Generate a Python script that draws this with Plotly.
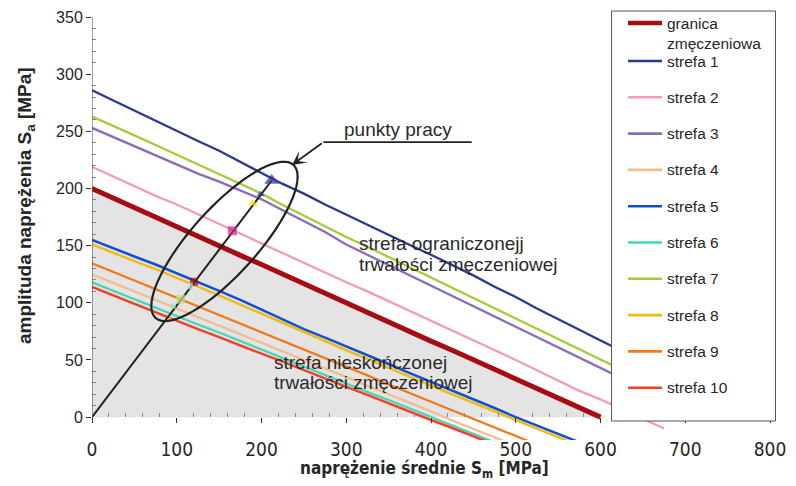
import math
import plotly.graph_objects as go

# Mean stress grid S_m [MPa] shared by all curves
SM = [0, 25, 50, 75, 100, 125, 150, 175, 200, 225, 250, 275, 300, 325, 350,
      375, 400, 425, 450, 475, 500, 525, 550, 575, 600, 625, 650, 675, 700]

# Stress amplitude S_a [MPa] along each curve (lists run from S_m = 0 upward)
GRANICA = [200, 191.5, 183.5, 175, 166.5, 158.5, 150, 141.5, 133.5, 125, 116.5,
           108.5, 100, 91.5, 83.5, 75, 66.5, 58.5, 50, 41.5, 33.5, 25, 16.5, 8.5, 0]
STREFA_1 = [286, 277, 268, 259.5, 250, 241.5, 233, 223, 213.5, 204, 195.5, 186,
            177, 168, 159.5, 150.5, 142, 133, 124, 114, 105, 95, 86, 76.5, 67,
            58, 49, 40, 31]
STREFA_2 = [219, 210.5, 201.5, 193.5, 186, 177.5, 168.5, 160, 151.5, 143.5, 135,
            126.5, 118, 110, 101.5, 93, 84.5, 76, 67.5, 59, 50, 41, 32, 23, 15.5,
            7, -1.5, -10]
STREFA_3 = [253, 245, 237, 229.5, 221.5, 213, 206, 198, 190.5, 181, 171.5, 162,
            151, 142, 133, 124, 115, 106, 97, 88, 79.5, 70.5, 61.5, 52.5, 43,
            34, 25, 16, 7]
STREFA_4 = [125, 117.5, 110, 102.5, 95, 87.5, 80, 72.5, 65, 58, 50.5, 43, 35.5,
            28, 20.5, 12.5, 5, -3, -10.5, -18, -25]
STREFA_5 = [155, 147.5, 140.5, 133.5, 126, 118.5, 110.5, 102.5, 94, 85.5, 77,
            69.5, 62, 54.5, 46.5, 38.5, 31, 23, 15.5, 8, 0, -7.5, -15, -22]
STREFA_6 = [118, 110.5, 103, 95.5, 88.5, 81, 74, 66.5, 59, 51.5, 44, 37, 29.5,
            22, 15, 7.5, 0.5, -7, -14.5, -22]
STREFA_7 = [263, 255, 246.5, 238, 229.5, 221, 212.5, 204, 195.5, 185.5, 176, 167,
            157.5, 149, 140, 131.5, 122.5, 113.5, 104.5, 95, 86.5, 77.5, 68.5,
            59.5, 50.5, 41, 32.5, 23.5, 14.5]
STREFA_8 = [151, 143.5, 136.5, 129.5, 122, 114.5, 106.5, 98.5, 90.5, 82.5, 74,
            66.5, 58.5, 51, 43, 35.5, 27.5, 20, 12.5, 5, -2.5, -10, -17.5, -25]
STREFA_9 = [134.5, 127, 119, 112, 104.5, 97, 89.5, 81.5, 74, 66.5, 59, 51.5, 44,
            36.5, 28.5, 21, 13.5, 6, -1.5, -9, -16.5, -24]
STREFA_10 = [114, 106.5, 99, 92, 84.5, 77, 70, 62.5, 55.5, 48.5, 41, 34, 26.5,
             19.5, 12, 5, -2.5, -9.5, -17, -24]

NAMES = ["granica zmęczeniowa", "strefa 1", "strefa 2", "strefa 3", "strefa 4",
         "strefa 5", "strefa 6", "strefa 7", "strefa 8", "strefa 9", "strefa 10"]
SERIES = [GRANICA, STREFA_1, STREFA_2, STREFA_3, STREFA_4, STREFA_5,
          STREFA_6, STREFA_7, STREFA_8, STREFA_9, STREFA_10]

# Working points ("punkty pracy")
PP_SM = [212, 199, 189.6, 165.6, 120.4, 115.6, 104.6, 96, 92]
PP_SA = [207, 195, 187, 163, 118.4, 114.6, 103.2, 97, 85]

# Axis ticks
X_TICKS = [0, 100, 200, 300, 400, 500, 600, 700, 800]
Y_TICKS = [0, 50, 100, 150, 200, 250, 300, 350]

# ---- styling ----
COLORS = ["#a50d12", "#2b3990", "#f29bbf", "#8c6bb8", "#f0bd90", "#1050d4",
          "#45d6b2", "#a3cc3a", "#f2bb12", "#f27a1a", "#f2412a"]
WIDTHS = [5, 2.3, 2.3, 2.3, 2.3, 2.5, 2.3, 2.3, 2.5, 2.3, 2.5]
PP_SYMBOL = ["triangle-up", "triangle-up", "triangle-up", "square", "square",
             "square", "square", "square", "triangle-up"]
PP_COLOR = ["#2e3192", "#2e3192", "#ffe600", "#c42a8c", "#a00d12", "#a8ecf0",
            "#b8e28a", "#8fe8c0", "#f2e46a"]
PP_SIZE = [13, 7, 9, 9, 8, 6, 9, 5, 7]

W, H = 796, 486
L, R, T, B = 92, 26, 17, 46
X_RANGE = [0, 800]
Y_RANGE = [-20, 350]
PW, PH = W - L - R, H - T - B
KX = PW / (X_RANGE[1] - X_RANGE[0])   # px per MPa
KY = PH / (Y_RANGE[1] - Y_RANGE[0])

TEXT = "#262626"
SANS = "Liberation Sans, Arial, sans-serif"
NARROW = "DejaVu Sans Condensed, Liberation Sans Narrow, Liberation Sans, sans-serif"


def px_x(px):
    return (px - L) / PW


def px_y(py):
    return (H - B - py) / PH


fig = go.Figure()

for i, (name, vals) in enumerate(zip(NAMES, SERIES)):
    fig.add_trace(go.Scatter(
        x=SM[:len(vals)], y=vals, mode="lines", name=name,
        line=dict(color=COLORS[i], width=WIDTHS[i]),
        fill="tozeroy" if i == 0 else None,
        fillcolor="#e4e4e4" if i == 0 else None,
    ))

# load path from the origin to the outermost working point
fig.add_trace(go.Scatter(x=[0, PP_SM[0]], y=[0, PP_SA[0]], mode="lines",
                         line=dict(color="#222222", width=2), showlegend=False))

fig.add_trace(go.Scatter(
    x=PP_SM, y=PP_SA, mode="markers", showlegend=False,
    marker=dict(symbol=PP_SYMBOL, color=PP_COLOR, size=PP_SIZE, line=dict(width=0)),
))

shapes = []
# y axis line (only over the positive range)
shapes.append(dict(type="line", xref="x", yref="y", x0=0, x1=0, y0=0, y1=350,
                   line=dict(color="#444444", width=1), layer="above"))

# ellipse around the working points (defined in screen px, rotated)
cx, cy, ea, eb, ang = 156.3, 153.7, 103, 33, math.radians(48)
pts = []
for k in range(73):
    t = 2 * math.pi * k / 72
    dx = ea * math.cos(t) * math.cos(ang) - eb * math.sin(t) * math.sin(ang)
    dy = ea * math.cos(t) * math.sin(ang) + eb * math.sin(t) * math.cos(ang)
    pts.append((cx + dx / KX, cy + dy / KY))
path = "M " + " L ".join(f"{x:.3f},{y:.3f}" for x, y in pts) + " Z"
shapes.append(dict(type="path", xref="x", yref="y", path=path,
                   line=dict(color="#222222", width=2.2), layer="above"))

# leader for the "punkty pracy" label
shapes.append(dict(type="line", xref="x", yref="y", x0=273, x1=448, y0=240.5, y1=240.5,
                   line=dict(color="#222222", width=1.8), layer="above"))

# legend frame
LEG_L, LEG_R, LEG_T, LEG_B = 611.5, 775.5, 11, 421
shapes.append(dict(type="rect", xref="paper", yref="paper",
                   x0=px_x(LEG_L), x1=px_x(LEG_R), y0=px_y(LEG_B), y1=px_y(LEG_T),
                   line=dict(color="#555555", width=1), fillcolor="white", layer="above"))

annotations = []
leg_rows = [23] + [61 + 36.3 * k for k in range(10)]
for i, (name, yrow) in enumerate(zip(NAMES, leg_rows)):
    shapes.append(dict(type="line", xref="paper", yref="paper",
                       x0=px_x(628), x1=px_x(662), y0=px_y(yrow), y1=px_y(yrow),
                       line=dict(color=COLORS[i], width=4.5 if i == 0 else 2.6),
                       layer="above"))
    label = name.replace(" ", "<br>") if i == 0 else name
    ymid = yrow + 10 if i == 0 else yrow
    annotations.append(dict(xref="paper", yref="paper", x=px_x(665), y=px_y(ymid),
                            xanchor="left", yanchor="middle", align="left",
                            text=label, showarrow=False,
                            font=dict(family=SANS, size=15.5, color=TEXT)))

# arrow pointing at the ellipse
annotations.append(dict(xref="x", yref="y", x=236, y=220.6, axref="x", ayref="y",
                        ax=273, ay=240.5, text="", showarrow=True, arrowhead=3,
                        arrowsize=1.3, arrowwidth=1.8, arrowcolor="#222222"))


def note(x, y, text):
    annotations.append(dict(xref="x", yref="y", x=x, y=y, text=text, showarrow=False,
                            xanchor="left", yanchor="middle",
                            font=dict(family=SANS, size=19, color="#2a2a2a")))


note(294.6, 251.2, "punkty pracy")
note(312.3, 152.1, "strefa ograniczonejj")
note(312.3, 133.1, "trwałości zmęczeniowej")
note(212, 47.7, "strefa nieskończonej")
note(212, 30.2, "trwałości zmęczeniowej")

# axis titles
annotations.append(dict(xref="paper", yref="paper", x=px_x(26), y=px_y(206),
                        text="<b>amplituda naprężenia S<sub>a</sub> [MPa]</b>",
                        textangle=-90, showarrow=False, xanchor="center", yanchor="middle",
                        font=dict(family=SANS, size=19, color=TEXT)))
annotations.append(dict(xref="paper", yref="paper", x=px_x(424), y=px_y(469),
                        text="<b>naprężenie średnie S<sub>m</sub> [MPa]</b>",
                        showarrow=False, xanchor="center", yanchor="middle",
                        font=dict(family=NARROW, size=17, color=TEXT)))

fig.update_layout(
    width=W, height=H, margin=dict(l=L, r=R, t=T, b=B),
    paper_bgcolor="white", plot_bgcolor="white", showlegend=False,
    shapes=shapes, annotations=annotations,
    xaxis=dict(range=X_RANGE, tickvals=X_TICKS, ticks="outside", ticklen=5,
               tickcolor="#333333", showline=False, showgrid=False, zeroline=False,
               anchor="free", position=(0 - Y_RANGE[0]) / (Y_RANGE[1] - Y_RANGE[0]),
               ticklabelstandoff=10, automargin=False,
               tickfont=dict(family=NARROW, size=19, color=TEXT),
               minor=dict(ticks="inside", ticklen=4, tickcolor="#888888",
                          tickvals=[v for v in range(20, 800, 20) if v % 100])),
    yaxis=dict(range=Y_RANGE, tickvals=Y_TICKS, ticks="outside", ticklen=5,
               tickcolor="#333333", showline=False, showgrid=False, zeroline=False,
               automargin=False,
               tickfont=dict(family=SANS, size=16, color=TEXT),
               minor=dict(ticks="inside", ticklen=4, tickcolor="#888888",
                          tickvals=[v for v in range(10, 350, 10) if v % 50])),
)

fig.write_html("out.html")
